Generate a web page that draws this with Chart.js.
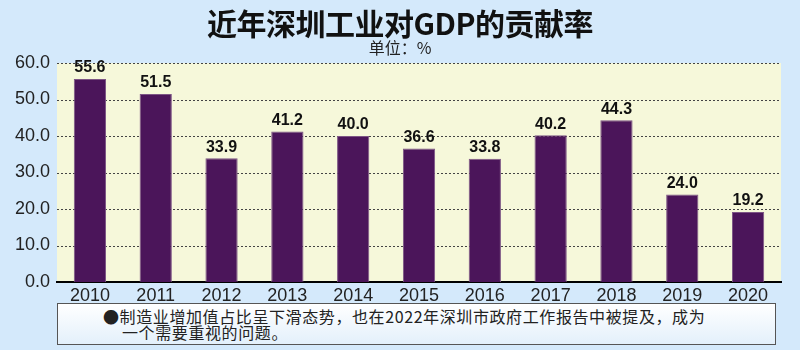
<!DOCTYPE html>
<html><head><meta charset="utf-8">
<script src="https://cdn.jsdelivr.net/npm/chart.js@4/dist/chart.umd.min.js"></script>
<style>
html,body{margin:0;padding:0;}
body{width:800px;height:350px;background:#d4e9fb;position:relative;overflow:hidden;font-family:"Noto Sans CJK SC",sans-serif;}
#title{position:absolute;left:0;top:3px;width:800px;text-align:center;font:bold 30px "Noto Sans CJK SC";color:#111;letter-spacing:-0.5px;line-height:38px;}
#sub{position:absolute;left:0;top:37px;width:800px;text-align:center;font:16px "Noto Sans CJK SC";color:#222;line-height:20px;}
#wrap{position:absolute;left:0;top:0;width:800px;height:350px;}
#note{position:absolute;left:57px;top:303px;width:717px;height:40px;border:1px solid #555;background:linear-gradient(#ffffff,#e3f0fb);font:16px "Noto Sans CJK SC";color:#222;line-height:16px;letter-spacing:0.6px;}
#note div{position:absolute;left:45px;top:4px;white-space:nowrap;}
#note div span{padding-left:19px;}
</style></head>
<body>
<div id="wrap"><canvas id="c" width="800" height="350"></canvas></div>
<div id="title">近年深圳工业对GDP的贡献率</div>
<div id="sub">单位：%</div>
<div id="note"><div>●制造业增加值占比呈下滑态势，也在2022年深圳市政府工作报告中被提及，成为<br><span>一个需要重视的问题。</span></div></div>
<script>
const categories = ["2010","2011","2012","2013","2014","2015","2016","2017","2018","2019","2020"];
const values = [55.6,51.5,33.9,41.2,40.0,36.6,33.8,40.2,44.3,24.0,19.2];
const yTicks = [0,10,20,30,40,50,60];

const bgPlugin = {
  id:'bg',
  beforeDraw(chart){
    const {ctx, chartArea:a} = chart;
    ctx.save(); ctx.fillStyle='#f6f8da'; ctx.fillRect(a.left,a.top,a.right-a.left,a.bottom-a.top); ctx.restore();
  },
  beforeDatasetsDraw(chart){
    const {ctx, chartArea:a, scales} = chart;
    const y = scales.y;
    ctx.save();
    ctx.strokeStyle='#444'; ctx.lineWidth=1; ctx.setLineDash([2,2]);
    y.ticks.forEach(t=>{
      if(t.value===0) return;
      const py = Math.round(y.getPixelForValue(t.value))+0.5;
      ctx.beginPath(); ctx.moveTo(a.left,py); ctx.lineTo(a.right,py); ctx.stroke();
    });
    ctx.restore();
  }
};
const labelPlugin = {
  id:'lbl',
  afterDatasetsDraw(chart){
    const {ctx} = chart;
    const meta = chart.getDatasetMeta(0);
    ctx.save();
    ctx.font='bold 16px "Liberation Sans", Arial, sans-serif';
    ctx.fillStyle='#111'; ctx.textAlign='center'; ctx.textBaseline='bottom';
    meta.data.forEach((b,i)=>{ ctx.fillText(values[i].toFixed(1), b.x, b.y-3); });
    ctx.restore();
  }
};

new Chart(document.getElementById('c'),{
  type:'bar',
  data:{labels:categories,datasets:[{data:values,backgroundColor:'#4b155a',borderColor:'#7d5585',borderWidth:1,barPercentage:0.49,categoryPercentage:1}]},
  options:{
    responsive:false,animation:false,
    layout:{padding:{left:0,right:19,top:63,bottom:45}},
    plugins:{legend:{display:false},tooltip:{enabled:false}},
    scales:{
      x:{
        grid:{display:false,drawTicks:false},
        border:{display:true,color:'#000',width:2},
        ticks:{color:'#222',font:{family:'"Liberation Sans", Arial',size:18},padding:3,maxRotation:0},
        afterFit(s){s.height=23;}
      },
      y:{
        min:0,max:60,
        afterBuildTicks(s){s.ticks=yTicks.map(v=>({value:v}));},
        grid:{display:false,drawTicks:false},
        border:{display:false},
        ticks:{color:'#222',font:{family:'"Liberation Sans", Arial',size:18},padding:7,callback:v=>v.toFixed(1)},
        afterFit(s){s.width=57;}
      }
    }
  },
  plugins:[bgPlugin,labelPlugin]
});
</script>
</body></html>
